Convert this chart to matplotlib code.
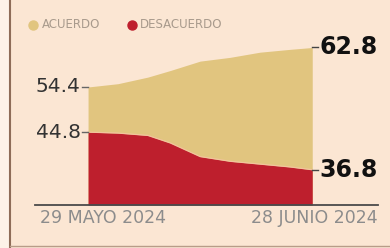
import matplotlib
matplotlib.use("Agg")
import matplotlib.pyplot as plt
import matplotlib.dates as mdates
from matplotlib.lines import Line2D
from matplotlib.patches import Rectangle
import numpy as np

# encuesta: acuerdo / desacuerdo (%)
fechas = ['2024-05-29', '2024-06-02', '2024-06-06', '2024-06-09', '2024-06-13',
          '2024-06-17', '2024-06-21', '2024-06-25', '2024-06-28']
acuerdo = [54.4, 55.1, 56.5, 57.9, 59.9, 60.7, 61.8, 62.4, 62.8]
desacuerdo = [44.8, 44.6, 44.1, 42.5, 39.6, 38.6, 38.0, 37.4, 36.8]
etiquetas_x = ['29 MAYO 2024', '28 JUNIO 2024']
leyenda = ['ACUERDO', 'DESACUERDO']

c_bg = '#fbe6d3'
c_acuerdo = '#e1c57f'
c_desacuerdo = '#be1f2d'

x = np.array(fechas, dtype='datetime64[D]')
xn = mdates.date2num(x)

fig = plt.figure(figsize=(3.9, 2.48), dpi=100, facecolor=c_bg)
fig.patches.append(Rectangle((0, 0), 10 / 390, 1, transform=fig.transFigure,
                             facecolor='#fdf2e8', edgecolor='none', zorder=0))
fig.add_artist(Line2D([10 / 390, 10 / 390], [0, 1], transform=fig.transFigure,
                      color='#8e6c58', lw=1.5))
fig.add_artist(Line2D([10 / 390, 1], [2 / 248, 2 / 248], transform=fig.transFigure,
                      color='#b89c88', lw=1.0))

ax = fig.add_axes([35 / 390, 43 / 248, 343 / 390, 205 / 248])
ax.set_facecolor('none')
ymin = 29.3
ax.fill_between(xn, ymin, acuerdo, color=c_acuerdo, lw=0, zorder=1)
ax.fill_between(xn, ymin, desacuerdo, color=c_desacuerdo, lw=0, zorder=2)
ax.plot(xn, desacuerdo, color='#f2c49c', lw=0.9, zorder=3)

ax.set_ylim(ymin, 72.9)
ax.set_xlim(xn[0] - 7.1, xn[-1] + 8.8)
for s in ['top', 'right', 'left']:
    ax.spines[s].set_visible(False)
ax.spines['bottom'].set_color('#4a4a4a')
ax.spines['bottom'].set_linewidth(1.3)
ax.set_xticks([])
ax.set_yticks([])

# etiquetas de valores
for v in [acuerdo[0], desacuerdo[0]]:
    ax.plot([xn[0] - 0.8, xn[0]], [v, v], color='#666666', lw=1, zorder=4)
    ax.text(xn[0] - 1.0, v, f'{v:.1f}', ha='right', va='center',
            fontsize=14.5, color='#333333', family='DejaVu Sans')
for v in [acuerdo[-1], desacuerdo[-1]]:
    ax.plot([xn[-1], xn[-1] + 0.8], [v, v], color='#444444', lw=1, zorder=4)
    ax.text(xn[-1] + 1.0, v, f'{v:.1f}', ha='left', va='center',
            fontsize=17, fontweight='bold', color='#111111', family='DejaVu Sans')

ax.text(5 / 343, -13 / 205, etiquetas_x[0], transform=ax.transAxes, ha='left',
        va='center', fontsize=12.5, color='#8c8c8c')
ax.text(1.0, -13 / 205, etiquetas_x[1], transform=ax.transAxes, ha='right',
        va='center', fontsize=12.5, color='#8c8c8c')

# leyenda
ly = 1 - 25 / 248
fig.add_artist(Line2D([33 / 390], [ly], transform=fig.transFigure, marker='o',
                      markersize=6.5, color=c_acuerdo, lw=0))
fig.text(42 / 390, ly, leyenda[0], ha='left', va='center', fontsize=8.5, color='#a89a8c')
fig.add_artist(Line2D([132 / 390], [ly], transform=fig.transFigure, marker='o',
                      markersize=6.5, color=c_desacuerdo, lw=0))
fig.text(140 / 390, ly, leyenda[1], ha='left', va='center', fontsize=8.5, color='#a89a8c')

fig.savefig('out.png', dpi=100, facecolor=c_bg)
